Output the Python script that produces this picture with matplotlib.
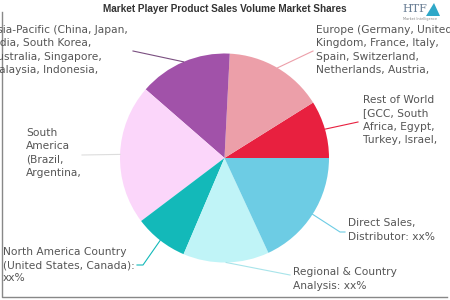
import numpy as np
import matplotlib.pyplot as plt
from matplotlib.patches import Polygon

regions = ["Rest of World\n[GCC, South\nAfrica, Egypt,\nTurkey, Israel,",
           "Europe (Germany, United\nKingdom, France, Italy,\nSpain, Switzerland,\nNetherlands, Austria,",
           "Asia-Pacific (China, Japan,\nIndia, South Korea,\nAustralia, Singapore,\nMalaysia, Indonesia,",
           "South\nAmerica\n(Brazil,\nArgentina,",
           "North America Country\n(United States, Canada):\nxx%",
           "Regional & Country\nAnalysis: xx%",
           "Direct Sales,\nDistributor: xx%"]
shares = [8.9, 15.3, 14.4, 21.7, 8.3, 13.3, 18.1]
colors = ["#E8203F", "#EC9FA9", "#A152A9", "#FBD6FA", "#13B9B9", "#C0F4F7", "#6DCCE4"]
line_colors = ["#E8203F", "#EC9FA9", "#7A4F80", "#DDDDDD", "#13B9B9", "#A8E4EA", "#6DCCE4"]

W, H = 450, 300
cx, cy, rad = 224.5, 158, 104.5

# label layout (pixels, y from top): elbow point, text x, text y (block centre)
label_pos = [
    ((358, 122), 363, 120),
    ((313, 51), 316, 50),
    ((133, 51), -10, 50),
    ((82, 155), 26, 153),
    ((143, 265), 3, 265),
    ((290, 275), 293, 279),
    ((340, 232), 348, 230),
]
line_ends = [None, None, None, None, (137, 265), None, (345, 232)]


def fy(y):
    return H - y


fig = plt.figure(figsize=(4.5, 3), dpi=100)
ax = fig.add_axes([0, 0, 1, 1])
wedges, _ = ax.pie(shares, colors=colors, startangle=0, counterclock=True,
                   center=(cx, fy(cy)), radius=rad,
                   wedgeprops=dict(linewidth=0))
ax.set_xlim(0, W)
ax.set_ylim(0, H)
ax.set_aspect("equal")
ax.axis("off")

for i, w in enumerate(wedges):
    mid = np.deg2rad((w.theta1 + w.theta2) / 2)
    x0 = cx + rad * np.cos(mid)
    y0 = fy(cy) + rad * np.sin(mid)
    (ex, ey), tx, ty = label_pos[i]
    xs = [x0, ex]
    ys = [y0, fy(ey)]
    if line_ends[i] is not None:
        xs.append(line_ends[i][0])
        ys.append(fy(line_ends[i][1]))
    ax.plot(xs, ys, color=line_colors[i], lw=0.8, clip_on=False)
    ax.text(tx, fy(ty), regions[i], ha="left", va="center", fontsize=7.7,
            color="#555555", linespacing=1.4, family="DejaVu Sans")

# frame
ax.plot([2, 2, 447], [fy(12), fy(297), fy(297)], color="#888888", lw=1)

ax.text(225, fy(9), "Market Player Product Sales Volume Market Shares",
        ha="center", va="center", fontsize=7.2, fontweight="heavy",
        color="#333333", family="Liberation Sans")

# logo
ax.text(415, fy(9), "HTF", ha="center", va="center", fontsize=8,
        color="#6A7F95", family="DejaVu Serif")
ax.add_patch(Polygon([[426, fy(16)], [434, fy(3)], [440, fy(16)]],
                     closed=True, facecolor="#2FA8C8", edgecolor="none"))
ax.text(420, fy(19), "Market Intelligence", ha="center", va="center",
        fontsize=2.5, color="#888888")

fig.savefig("out.png", dpi=100)
